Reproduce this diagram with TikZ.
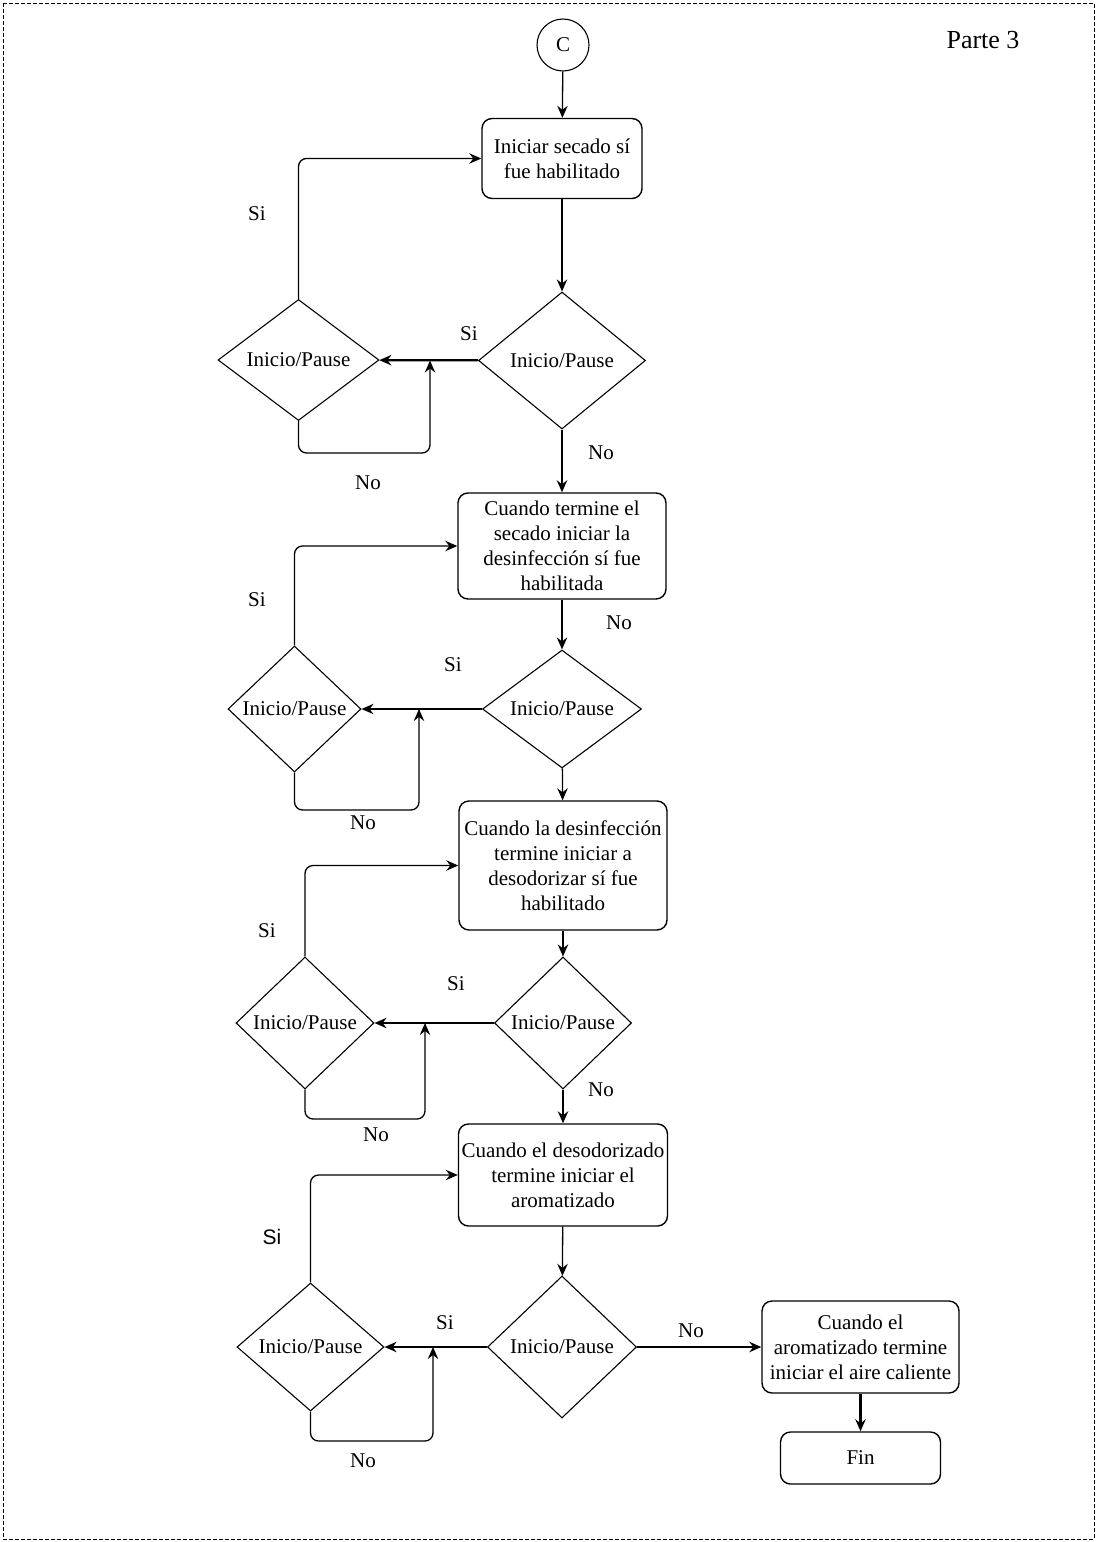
\documentclass[tikz,border=0pt]{standalone}
\usepackage{fontspec}
\setmainfont{Liberation Serif}
\newfontfamily\labsans{Liberation Sans}
\usetikzlibrary{shapes.geometric,arrows.meta}

\begin{document}
\begin{tikzpicture}[x=0.5pt,y=-0.5pt,
  every node/.style={font=\fontsize{10.5}{12.5}\selectfont},
  procbox/.style={draw,line width=0.7pt,rounded corners=5pt,align=center,inner sep=1pt},
  decision/.style={draw,diamond,shape aspect=1,line width=0.55pt,inner sep=0pt},
  lbl/.style={inner sep=0pt},
  flow/.style={-{Stealth[length=6pt,width=5.2pt,inset=2pt]},line width=0.65pt},
  flowbold/.style={flow,line width=1.1pt},
  loop/.style={flow,rounded corners=4pt}
]
\useasboundingbox (0,0) rectangle (1097,1542);
\draw[line width=0.45pt,dash pattern=on 1.8pt off 1.2pt] (3,3) rectangle (1094,1539);

% start connector and title
\node[draw,circle,line width=0.55pt,minimum size=26pt,inner sep=0pt] (C) at (563,45) {C};
\node[lbl,font=\fontsize{13}{15}\selectfont] (parte) at (983,40) {Parte 3};

% stage 1: drying
\node[procbox,minimum width=80pt,minimum height=40pt] (b1) at (562,158.5)
  {Iniciar secado sí\\fue habilitado};
\node[decision,minimum width=83.5pt,minimum height=68.5pt] (d1) at (562,360.5) {Inicio/Pause};
\node[decision,minimum width=80.5pt,minimum height=60.5pt] (p1) at (298.5,360) {Inicio/Pause};
\coordinate (j1) at (430,360.5);
\coordinate (k1) at (430,453);

% stage 2: disinfection
\node[procbox,minimum width=104pt,minimum height=53pt] (b2) at (562,546)
  {Cuando termine el\\secado iniciar la\\desinfección sí fue\\habilitada};
\node[decision,minimum width=79.5pt,minimum height=59pt] (d2) at (562,709) {Inicio/Pause};
\node[decision,minimum width=66.5pt,minimum height=63pt] (p2) at (294.5,709) {Inicio/Pause};
\coordinate (j2) at (419,709);
\coordinate (k2) at (419,810);

% stage 3: deodorizing
\node[procbox,minimum width=104pt,minimum height=64.5pt] (b3) at (563,865.5)
  {Cuando la desinfección\\termine iniciar a\\desodorizar sí fue\\habilitado};
\node[decision,minimum width=68.5pt,minimum height=66pt] (d3) at (563,1023) {Inicio/Pause};
\node[decision,minimum width=69pt,minimum height=66pt] (p3) at (305,1023) {Inicio/Pause};
\coordinate (j3) at (425,1023);
\coordinate (k3) at (425,1119);

% stage 4: aromatizing
\node[procbox,minimum width=104.5pt,minimum height=51pt] (b4) at (563,1175)
  {Cuando el desodorizado\\termine iniciar el\\aromatizado};
\node[decision,minimum width=74.5pt,minimum height=71pt] (d4) at (562,1347) {Inicio/Pause};
\node[decision,minimum width=73.5pt,minimum height=64pt] (p4) at (310.5,1347) {Inicio/Pause};
\coordinate (j4) at (433,1347);
\coordinate (k4) at (433,1441);

% hot air and end
\node[procbox,minimum width=98.5pt,minimum height=46pt] (b5) at (860.5,1347)
  {Cuando el\\aromatizado termine\\iniciar el aire caliente};
\node[procbox,minimum width=80pt,minimum height=26pt] (fin) at (860.5,1458) {Fin};

% main flow
\draw[flow] (C) -- (b1);
\draw[flow] (b1) -- (d1);
\draw[flowbold] (d1) -- (b2);
\draw[flowbold] (b2) -- (d2);
\draw[flow] (d2) -- (b3);
\draw[flowbold] (b3) -- (d3);
\draw[flow] (d3) -- (b4);
\draw[flow] (b4) -- (d4);
\draw[flowbold] (d4) -- (b5);
\draw[flowbold] (b5) -- (fin);

% pause branches
\draw[flowbold] (d1) -- (p1);
\draw[flow] (d2) -- (p2);
\draw[flowbold] (d3) -- (p3);
\draw[flowbold] (d4) -- (p4);

% resume loops back to each stage
\draw[loop] (p1.north) |- (b1.west);
\draw[loop] (p2.north) |- (b2.west);
\draw[loop] (p3.north) |- (b3.west);
\draw[loop] (p4.north) |- (b4.west);

% waiting loops while paused
\draw[loop] (p1.south) |- (k1) -- (j1);
\draw[loop] (p2.south) |- (k2) -- (j2);
\draw[loop] (p3.south) |- (k3) -- (j3);
\draw[loop] (p4.south) |- (k4) -- (j4);

% branch labels
\node[lbl] (s1a) at (469,334) {Si};
\node[lbl] (s1b) at (257,214) {Si};
\node[lbl] (n1a) at (368,483) {No};
\node[lbl] (n1b) at (601,453) {No};

\node[lbl] (s2a) at (453,665) {Si};
\node[lbl] (s2b) at (257,600) {Si};
\node[lbl] (n2a) at (363,823) {No};
\node[lbl] (n2b) at (619,623) {No};

\node[lbl] (s3a) at (456,984) {Si};
\node[lbl] (s3b) at (267,931) {Si};
\node[lbl] (n3a) at (376,1135) {No};
\node[lbl] (n3b) at (601,1090) {No};

\node[lbl] (s4a) at (445,1323) {Si};
\node[lbl,font=\labsans\fontsize{10.5}{12.5}\selectfont] (s4b) at (272,1237) {Si};
\node[lbl] (n4a) at (363,1461) {No};
\node[lbl] (n4b) at (691,1331) {No};
\end{tikzpicture}
\end{document}
